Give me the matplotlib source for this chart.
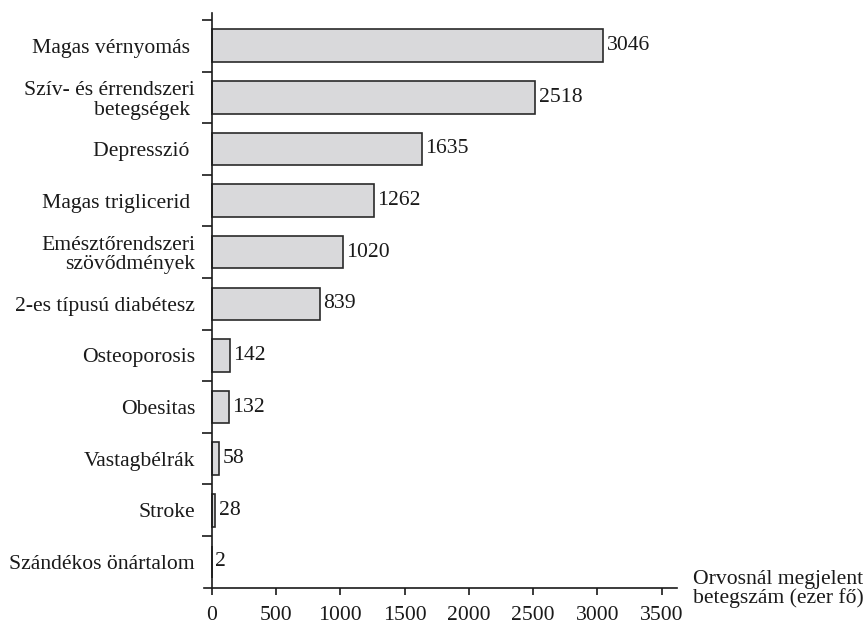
import matplotlib
matplotlib.use("Agg")
import matplotlib.pyplot as plt

categories = [
    "Magas vérnyomás ",
    "Szív- és érrendszeri\nbetegségek ",
    "Depresszió ",
    "Magas triglicerid ",
    "Emésztőrendszeri\nszövődmények",
    "2-es típusú diabétesz",
    "Osteoporosis",
    "Obesitas",
    "Vastagbélrák",
    "Stroke",
    "Szándékos önártalom",
]
values = [3046, 2518, 1635, 1262, 1020, 839, 142, 132, 58, 28, 2]
xticks = [0, 500, 1000, 1500, 2000, 2500, 3000, 3500]
xlabel = "Orvosnál megjelent\nbetegszám (ezer fő)"

plt.rcParams['font.family'] = ['Liberation Serif', 'DejaVu Serif']
FS = 15.6
TXT = "#1a1a1a"

fig = plt.figure(figsize=(8.67, 6.23), dpi=100)
ax = fig.add_axes([0.2353, 0.0567, 0.7805 - 0.2353, 0.9796 - 0.0567])

n = len(categories)
pos = [n - 1 - i for i in range(n)]
bars = ax.barh(pos, values, height=0.63, color="#d9d9db", edgecolor="#2a2a2a", linewidth=1.2)

for p, v in zip(pos, values):
    ax.annotate(str(v), xy=(v, p), xytext=(2.4, 0), textcoords="offset points",
                ha="left", va="center", fontsize=FS, color=TXT)

ax.set_xlim(-60, 3617)
ax.set_ylim(-0.5, n - 0.5 + 0.14)

ax.spines['left'].set_position(('data', 0))
ax.spines['right'].set_visible(False)
ax.spines['top'].set_visible(False)
for s in ('left', 'bottom'):
    ax.spines[s].set_color("#1a1a1a")
    ax.spines[s].set_linewidth(1.2)

ax.set_xticks(xticks)
ax.set_xticklabels([str(t) for t in xticks], fontsize=FS, color=TXT)
ax.tick_params(axis='x', direction='out', length=5, width=1.2, color="#1a1a1a", pad=8)

# boundary ticks on y-axis
ax.set_yticks([b + 0.5 for b in range(0, n)], minor=False)
ax.set_yticklabels([])
ax.tick_params(axis='y', which='major', direction='out', length=7, width=1.2, color="#1a1a1a")
ax.set_yticks(pos, minor=True)
ax.set_yticklabels(categories, minor=True, fontsize=FS, color=TXT, ha='right', linespacing=1.05)
ax.tick_params(axis='y', which='minor', length=0, pad=12)

fig.text(693 / 867, 1 - 589 / 623, xlabel, ha='left', va='center', fontsize=FS, color=TXT,
         linespacing=0.88)

fig.savefig("out.png", dpi=100)
